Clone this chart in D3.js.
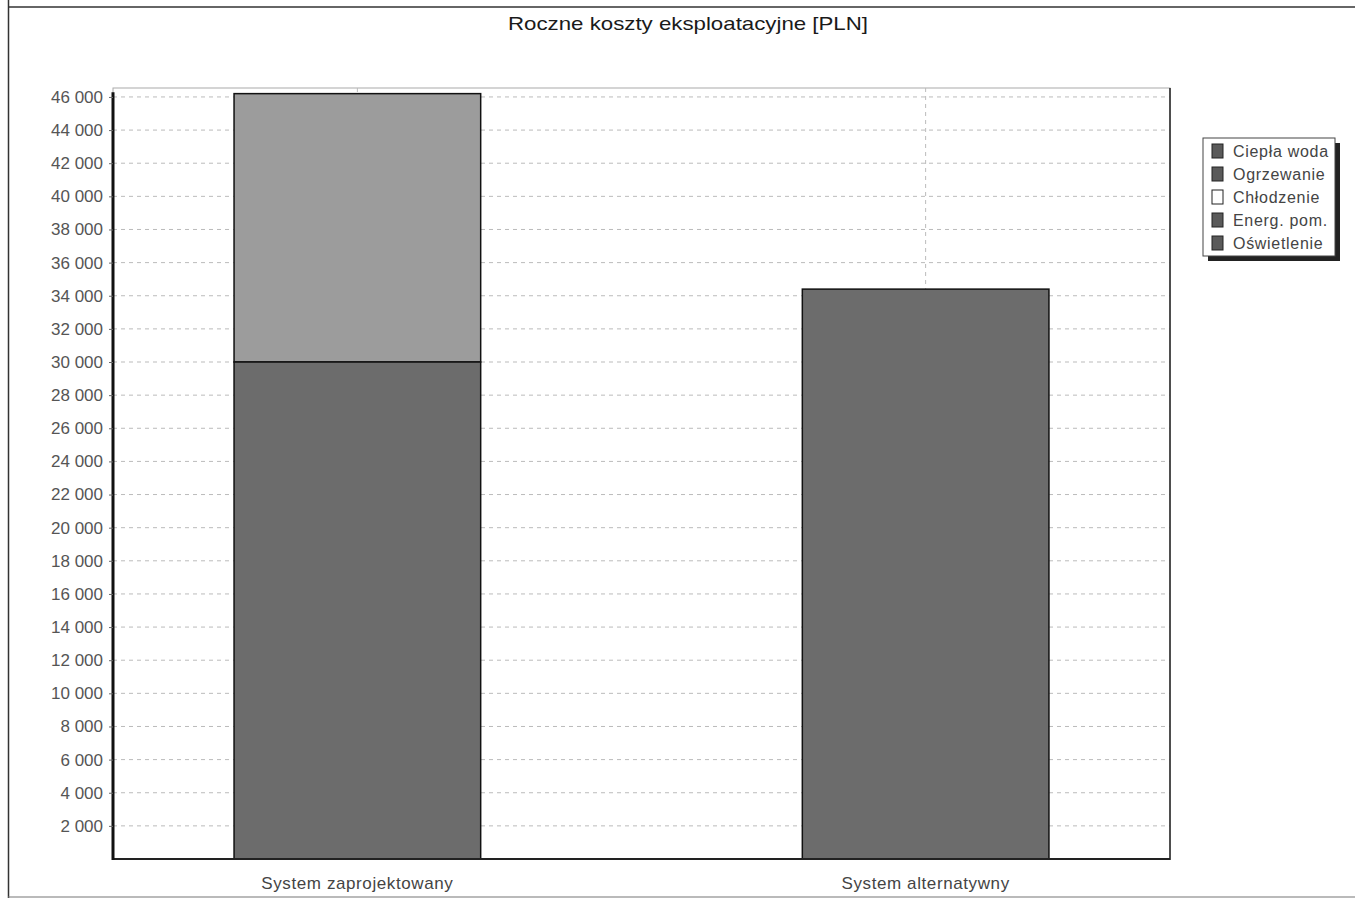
<!DOCTYPE html>
<html>
<head>
<meta charset="utf-8">
<script src="https://cdn.jsdelivr.net/npm/d3@7"></script>
<style>
  html, body { margin: 0; padding: 0; background: #fff; }
  svg { display: block; font-family: 'Liberation Sans', Arial, sans-serif; }
</style>
</head>
<body>
<div id="chart"></div>
<script>
const categories = ['System zaprojektowany', 'System alternatywny']
const seriesNames = ['Ciepła woda', 'Ogrzewanie', 'Chłodzenie', 'Energ. pom.', 'Oświetlenie']
const seriesValues = [
  [16200, 0],
  [30000, 34400],
  [0, 0],
  [0, 0],
  [0, 0]
]
const seriesColors = ['#9c9c9c', '#6c6c6c', '#ffffff', '#707070', '#767676']
const yTicks = d3.range(2000, 46001, 2000)
const title = 'Roczne koszty eksploatacyjne [PLN]'

const W = 1355
const H = 915
const margin = { top: 88, right: 185, bottom: 55, left: 113 }
const plotW = W - margin.left - margin.right
const plotH = H - margin.top - margin.bottom

const svg = d3.select('#chart')
  .append('svg')
  .attr('width', W)
  .attr('height', H)

// page frame lines
svg.append('line').attr('x1', 8).attr('x2', W).attr('y1', 7).attr('y2', 7)
  .attr('stroke', '#333').attr('stroke-width', 1.5)
svg.append('line').attr('x1', 8.5).attr('x2', 8.5).attr('y1', 0).attr('y2', 898)
  .attr('stroke', '#333').attr('stroke-width', 1.5)
svg.append('line').attr('x1', 8).attr('x2', W).attr('y1', 897).attr('y2', 897)
  .attr('stroke', '#777').attr('stroke-width', 1.2)

svg.append('text')
  .attr('x', 508)
  .attr('y', 30)
  .attr('font-size', 19)
  .attr('fill', '#1a1a1a')
  .attr('textLength', 360)
  .attr('lengthAdjust', 'spacingAndGlyphs')
  .text(title)

const g = svg.append('g')
  .attr('transform', `translate(${margin.left},${margin.top})`)

const data = categories.map((c, i) => {
  const row = { category: c }
  seriesNames.forEach((s, j) => { row[s] = seriesValues[j][i] })
  return row
})

const x = d3.scalePoint()
  .domain(categories)
  .range([0, plotW])
  .padding(0.43)
const step = x.step()
const barW = step * 0.434

const y = d3.scaleLinear()
  .domain([0, 46540])
  .range([plotH - 1, 0])

// plot frame
g.append('rect')
  .attr('x', 0).attr('y', 0)
  .attr('width', plotW).attr('height', plotH - 1)
  .attr('fill', 'none')
  .attr('stroke', '#aaa')
  .attr('stroke-width', 1)

// grid
g.append('g')
  .selectAll('line')
  .data(yTicks)
  .join('line')
  .attr('x1', 0).attr('x2', plotW)
  .attr('y1', d => y(d)).attr('y2', d => y(d))
  .attr('stroke', '#bbb')
  .attr('stroke-dasharray', '4,4')

g.append('g')
  .selectAll('line')
  .data(categories)
  .join('line')
  .attr('x1', d => x(d)).attr('x2', d => x(d))
  .attr('y1', 0).attr('y2', plotH)
  .attr('stroke', '#bbb')
  .attr('stroke-dasharray', '4,4')

const stack = d3.stack()
  .keys(seriesNames)
  .order(d3.stackOrderReverse)
const stacked = stack(data)

g.append('g')
  .selectAll('g')
  .data(stacked)
  .join('g')
  .attr('fill', d => seriesColors[seriesNames.indexOf(d.key)])
  .selectAll('rect')
  .data(d => d.filter(p => p[1] - p[0] > 0))
  .join('rect')
  .attr('x', d => x(d.data.category) - barW / 2)
  .attr('y', d => y(d[1]))
  .attr('width', barW)
  .attr('height', d => y(d[0]) - y(d[1]))
  .attr('stroke', '#111')
  .attr('stroke-width', 1.5)

// x axis line and right edge
g.append('line')
  .attr('x1', 0).attr('x2', plotW)
  .attr('y1', plotH - 1).attr('y2', plotH - 1)
  .attr('stroke', '#222').attr('stroke-width', 2)
g.append('line')
  .attr('x1', plotW).attr('x2', plotW)
  .attr('y1', 0).attr('y2', plotH)
  .attr('stroke', '#222').attr('stroke-width', 1.5)

// y axis
const yAxis = g.append('g')
  .call(d3.axisLeft(y)
    .tickValues(yTicks)
    .tickSize(4)
    .tickFormat(d => d3.format(',')(d).replace(/,/g, ' ')))
yAxis.select('.domain').attr('stroke', '#111').attr('stroke-width', 3)
  .attr('d', `M0,${y(46280)}V${plotH}`)
yAxis.selectAll('.tick line').attr('stroke', '#666')
yAxis.selectAll('.tick text')
  .attr('font-size', 17)
  .attr('fill', '#555')
  .attr('x', -10)
  .style('font-family', "'Liberation Sans', Arial, sans-serif")

// x labels
g.append('g')
  .selectAll('text')
  .data(categories)
  .join('text')
  .attr('x', d => x(d))
  .attr('y', plotH + 29)
  .attr('text-anchor', 'middle')
  .attr('font-size', 17)
  .attr('letter-spacing', 0.6)
  .attr('fill', '#444')
  .text(d => d)

// legend
const legW = 132
const legH = 118
const lg = svg.append('g').attr('transform', 'translate(1203,138)')
lg.append('rect')
  .attr('x', 5).attr('y', 5)
  .attr('width', legW).attr('height', legH)
  .attr('fill', '#222')
lg.append('rect')
  .attr('width', legW).attr('height', legH)
  .attr('fill', '#fff')
  .attr('stroke', '#444')

seriesNames.forEach((s, i) => {
  const item = lg.append('g').attr('transform', `translate(9, ${6 + i * 23})`)
  item.append('rect')
    .attr('width', 11).attr('height', 14)
    .attr('fill', s === 'Chłodzenie' ? '#fff' : '#5a5a5a')
    .attr('stroke', '#222')
  item.append('text')
    .attr('x', 21)
    .attr('y', 13)
    .attr('font-size', 16)
    .attr('letter-spacing', 0.7)
    .attr('fill', '#444')
    .text(s)
})
</script>
</body>
</html>
